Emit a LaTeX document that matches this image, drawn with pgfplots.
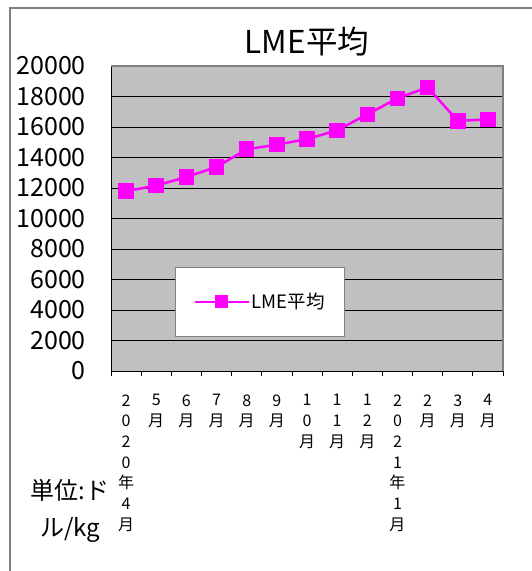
\documentclass[border=0pt]{standalone}
\usepackage{fontspec}
\setmainfont{Noto Sans CJK JP}
\usepackage{pgfplots}
\pgfplotsset{compat=1.18}
\definecolor{plotgray}{HTML}{C0C0C0}
\definecolor{framegray}{HTML}{808080}
\definecolor{mag}{HTML}{FF00FF}
\begin{document}
\begin{tikzpicture}[x=1pt,y=1pt]
\useasboundingbox (0,0) rectangle (531,571);
\fill[white] (0,0) rectangle (531,571);
\draw[framegray, line width=1.2pt] (10,-5) -- (10,563) -- (540,563);
\node[font=\fontsize{31.5}{31.5}\selectfont] at (307,529) {LME平均};
\node[font=\fontsize{24}{37}\selectfont, align=center] at (70,60) {単位:ド\\ル/kg};
\begin{axis}[
  at={(111pt,200pt)}, anchor=south west,
  scale only axis, width=392pt, height=305pt,
  xmin=-0.5, xmax=12.5, ymin=0, ymax=20000,
  axis x line*=bottom, axis y line*=left,
  axis line style={black, line width=0.8pt},
  axis background/.style={fill=plotgray},
  ytick={0,2000,...,20000},
  ymajorgrids, grid style={black, line width=0.6pt},
  major y tick style={draw=none},
  yticklabel style={font=\fontsize{25}{25}\selectfont, inner sep=0pt, xshift=-25pt, anchor=east},
  /pgf/number format/assume math mode=true,
  /pgf/number format/.cd, set thousands separator={}, /pgfplots/.cd,
  scaled y ticks=false,
  xtick={0,...,12},
  major x tick style={draw=none},
  minor xtick={-0.5,0.5,...,12.5},
  minor x tick style={black, line width=0.8pt},
  minor tick length=5pt,
  xtick align=outside,
  xticklabels={{2\\0\\2\\0\\年\\4\\月},{5\\月},{6\\月},{7\\月},{8\\月},{9\\月},{1\\0\\月},{1\\1\\月},{1\\2\\月},{2\\0\\2\\1\\年\\1\\月},{2\\月},{3\\月},{4\\月}},
  xticklabel style={font=\fontsize{16}{20.7}\selectfont, align=center, anchor=north, inner sep=0pt, yshift=-19pt},
  legend style={at={(0.163,0.3416)}, anchor=north west, draw=framegray, line width=1pt, fill=white,
    font=\fontsize{18.5}{18.5}\selectfont, inner xsep=18pt, inner ysep=24pt},
  legend image code/.code={\draw[#1, mark size=6pt, mark repeat=2, mark phase=2] plot coordinates {(0pt,0pt) (27pt,0pt) (54pt,0pt)};},
  clip=false,
]
\addplot[mag, line width=2.5pt, mark=square*, mark size=7.3pt, mark options={fill=mag, draw=mag, line width=0pt}] coordinates {
(0,11790) (1,12160) (2,12720) (3,13380) (4,14540) (5,14840) (6,15210) (7,15780) (8,16830) (9,17880) (10,18600) (11,16400) (12,16500)
};
\addlegendentry{LME平均}
\draw[framegray, line width=2pt] (rel axis cs:0,1) -- (rel axis cs:1,1) -- (rel axis cs:1,0);
\end{axis}
\end{tikzpicture}
\end{document}
